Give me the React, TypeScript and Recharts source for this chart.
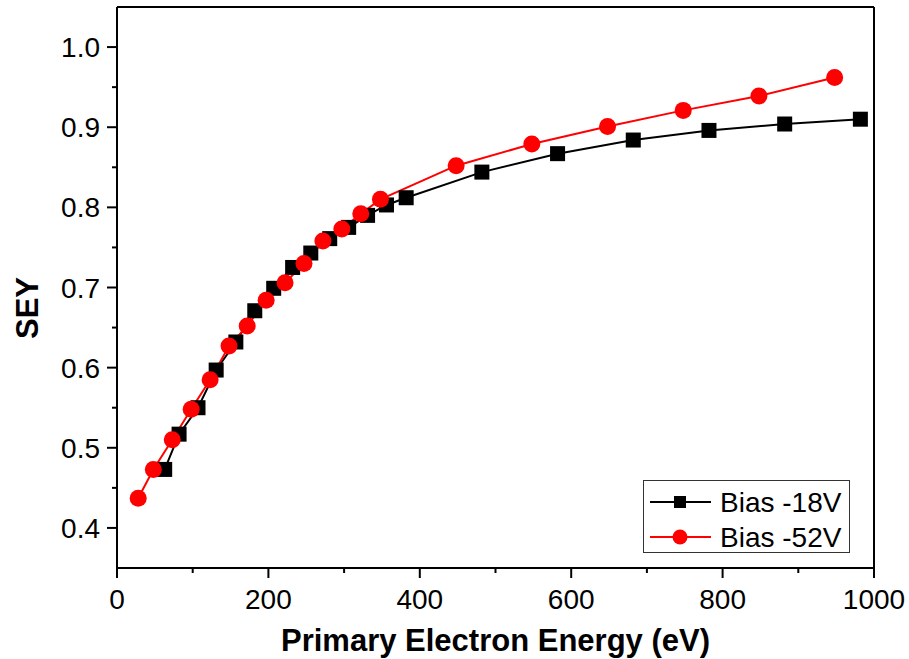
import { LineChart, Line, XAxis, YAxis, Label, ReferenceLine } from 'recharts'

const energy18 = [63, 82, 107, 131, 157, 182, 207, 232, 256, 281, 306, 331, 356, 382, 482, 582, 682, 782, 882, 982]
const sey18 = [0.473, 0.517, 0.55, 0.597, 0.632, 0.671, 0.699, 0.725, 0.743, 0.761, 0.775, 0.79, 0.803, 0.812, 0.844, 0.867, 0.884, 0.896, 0.904, 0.91]
const energy52 = [28, 48, 73, 98, 123, 148, 172, 197, 222, 247, 272, 297, 322, 348, 448, 548, 648, 748, 848, 948]
const sey52 = [0.437, 0.473, 0.51, 0.548, 0.585, 0.627, 0.652, 0.684, 0.706, 0.73, 0.758, 0.773, 0.792, 0.81, 0.852, 0.879, 0.901, 0.921, 0.939, 0.962]

const xTicks = [0, 100, 200, 300, 400, 500, 600, 700, 800, 900, 1000]
const yTicks = [0.4, 0.45, 0.5, 0.55, 0.6, 0.65, 0.7, 0.75, 0.8, 0.85, 0.9, 0.95, 1.0]

const series18 = energy18.map((x, i) => ({ x, y: sey18[i] }))
const series52 = energy52.map((x, i) => ({ x, y: sey52[i] }))

const FONT = '"Liberation Sans", Arial, sans-serif'

const XTick = ({ x, y, payload }: any) => {
  const major = payload.value % 200 === 0
  return (
    <g>
      <line x1={x} y1={y} x2={x} y2={y + (major ? 10 : 5)} stroke="#000" strokeWidth={2} />
      {major && (
        <text x={x} y={y + 41} textAnchor="middle" fontSize={28} fontFamily={FONT} fill="#000">
          {payload.value}
        </text>
      )}
    </g>
  )
}

const YTick = ({ x, y, payload }: any) => {
  const v = payload.value
  const major = Math.abs(v * 10 - Math.round(v * 10)) < 1e-6
  return (
    <g>
      <line x1={x} y1={y} x2={x - (major ? 10 : 5)} y2={y} stroke="#000" strokeWidth={2} />
      {major && (
        <text x={x - 17} y={y} dy="0.36em" textAnchor="end" fontSize={28} fontFamily={FONT} fill="#000">
          {v.toFixed(1)}
        </text>
      )}
    </g>
  )
}

const SquareDot = (props: any) => {
  const { cx, cy, index } = props
  return <rect key={'sq' + index} x={cx - 7.5} y={cy - 7.5} width={15} height={15} fill="#000" />
}

export default function App() {
  return (
    <div style={{ position: 'relative', width: 909, height: 659, background: '#fff' }}>
      <style>{'body{margin:0}'}</style>
      <LineChart width={909} height={659} margin={{ top: 7, right: 35, left: 0, bottom: 0 }}>
        <XAxis
          type="number"
          dataKey="x"
          domain={[0, 1000]}
          ticks={xTicks}
          interval={0}
          height={91}
          tickSize={0}
          tickMargin={0}
          tick={<XTick />}
          axisLine={{ stroke: '#000', strokeWidth: 2 }}
        >
          <Label
            content={() => (
              <text x={495.5} y={651} textAnchor="middle" fontSize={31} fontWeight="bold" fontFamily={FONT} fill="#000">
                Primary Electron Energy (eV)
              </text>
            )}
          />
        </XAxis>
        <YAxis
          type="number"
          dataKey="y"
          domain={[0.35, 1.05]}
          ticks={yTicks}
          interval={0}
          width={117}
          tickSize={0}
          tickMargin={0}
          tick={<YTick />}
          axisLine={{ stroke: '#000', strokeWidth: 2 }}
        >
          <Label
            content={() => (
              <text
                x={38}
                y={308}
                transform="rotate(-90 38 308)"
                textAnchor="middle"
                fontSize={31}
                fontWeight="bold"
                fontFamily={FONT}
                fill="#000"
              >
                SEY
              </text>
            )}
          />
        </YAxis>
        <ReferenceLine y={1.05} stroke="#000" strokeWidth={2} />
        <ReferenceLine x={1000} stroke="#000" strokeWidth={2} />
        <Line
          data={series18}
          dataKey="y"
          type="linear"
          stroke="#000"
          strokeWidth={2}
          dot={SquareDot}
          isAnimationActive={false}
        />
        <Line
          data={series52}
          dataKey="y"
          type="linear"
          stroke="#ff0000"
          strokeWidth={2}
          dot={{ r: 8.5, fill: '#ff0000', stroke: '#ff0000', strokeWidth: 0 }}
          isAnimationActive={false}
        />
      </LineChart>
      <div
        style={{
          position: 'absolute',
          left: 643,
          top: 480,
          width: 205,
          height: 71,
          border: '1px solid #333',
          background: '#fff',
        }}
      >
        <svg width={205} height={71} style={{ display: 'block' }}>
          <line x1={6} y1={21} x2={67} y2={21} stroke="#000" strokeWidth={2} />
          <rect x={30} y={15} width={12} height={12} fill="#000" />
          <text x={76} y={21} dy="0.36em" fontSize={28} fontFamily={FONT} fill="#000">
            Bias -18V
          </text>
          <line x1={6} y1={56} x2={67} y2={56} stroke="#ff0000" strokeWidth={2} />
          <circle cx={36} cy={56} r={7.5} fill="#ff0000" />
          <text x={76} y={56} dy="0.36em" fontSize={28} fontFamily={FONT} fill="#000">
            Bias -52V
          </text>
        </svg>
      </div>
    </div>
  )
}
